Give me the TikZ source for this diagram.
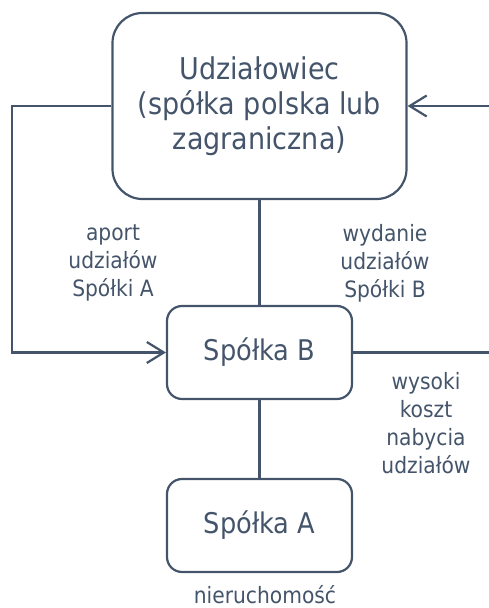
\documentclass[tikz,border=0pt]{standalone}
\usepackage{fontspec}
\setmainfont{DejaVu Sans Condensed}
\usepackage{xcolor}
\definecolor{slate}{HTML}{44546A}
\usetikzlibrary{arrows.meta, positioning}

\tikzset{
  entity/.style={draw=slate, line width=2.2pt, rounded corners=15pt, text=slate,
    minimum width=185pt, minimum height=93pt, align=center,
    font=\fontsize{28.5}{35}\selectfont},
  flowlabel/.style={text=slate, align=center, font=\fontsize{22.5}{28}\selectfont}
}

\begin{document}
\begin{tikzpicture}[x=1pt, y=-1pt, line width=2.2pt, draw=slate,
    >={Straight Barb[length=17pt, width=21pt, line width=2.2pt]}]
  \useasboundingbox (0,0) rectangle (489,608);
  % boxes
  \node[entity, rounded corners=30pt, minimum width=294pt, minimum height=186pt,
        font=\fontsize{30}{35}\selectfont] (udz) at (259.5,106)
        {Udziałowiec\\(spółka polska lub\\zagraniczna)};
  \node[entity] (spB) at (259.5,352.5) {Spółka B};
  \node[entity] (spA) at (259.5,525.5) {Spółka A};
  \coordinate (loop) at (12,352.5);
  \coordinate (inR) at (489,106);
  \coordinate (outR) at (489,352.5);
  % connectors
  \draw[->] (udz.west) -| (loop) -- (spB.west);
  \draw[->] (inR) -- (udz.east);
  \draw (spB.east) -- (outR);
  \draw (udz) -- (spB);
  \draw (spB) -- (spA);
  % labels
  \node[flowlabel] (aport) at (113,263) {aport\\udziałów\\Spółki A};
  \node[flowlabel] (wyd) at (385,263) {wydanie\\udziałów\\Spółki B};
  \node[flowlabel] (koszt) at (426,423) {wysoki\\koszt\\nabycia\\udziałów};
  \node[flowlabel] (nier) at (265,595) {nieruchomość};
\end{tikzpicture}
\end{document}
